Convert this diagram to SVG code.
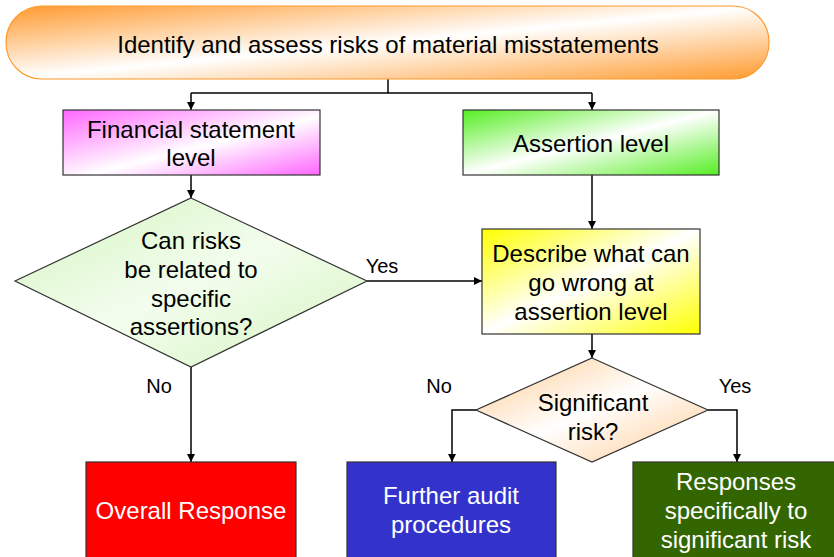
<svg xmlns="http://www.w3.org/2000/svg" width="834" height="557" viewBox="0 0 834 557">
  <defs>
    <linearGradient id="gOrange" x1="0" y1="0" x2="1" y2="1">
      <stop offset="0" stop-color="#FF9A2E"/>
      <stop offset="0.5" stop-color="#FFFFFF"/>
      <stop offset="1" stop-color="#FF9A2E"/>
    </linearGradient>
    <linearGradient id="gMagenta" x1="0" y1="0" x2="1" y2="1">
      <stop offset="0" stop-color="#FF66FF"/>
      <stop offset="0.55" stop-color="#FFFFFF"/>
      <stop offset="1" stop-color="#FF66FF"/>
    </linearGradient>
    <linearGradient id="gGreen" x1="0" y1="0" x2="1" y2="1">
      <stop offset="0" stop-color="#55EE22"/>
      <stop offset="0.5" stop-color="#FFFFFF"/>
      <stop offset="1" stop-color="#55EE22"/>
    </linearGradient>
    <linearGradient id="gYellow" x1="0" y1="0" x2="1" y2="1">
      <stop offset="0" stop-color="#FFFF00"/>
      <stop offset="0.5" stop-color="#FFFFFF"/>
      <stop offset="1" stop-color="#FFFF00"/>
    </linearGradient>
    <linearGradient id="gPale" x1="0" y1="0" x2="1" y2="1">
      <stop offset="0" stop-color="#D4F5BE"/>
      <stop offset="0.5" stop-color="#F3FDEE"/>
      <stop offset="1" stop-color="#D4F5BE"/>
    </linearGradient>
    <linearGradient id="gPeach" x1="0" y1="0" x2="1" y2="1">
      <stop offset="0" stop-color="#FFC98F"/>
      <stop offset="0.5" stop-color="#FFFFFF"/>
      <stop offset="1" stop-color="#FFC98F"/>
    </linearGradient>
    <marker id="arrow" viewBox="0 0 10 10" refX="10" refY="5" markerWidth="8" markerHeight="8" markerUnits="userSpaceOnUse" orient="auto">
      <path d="M0,0 L10,5 L0,10 Z" fill="#000"/>
    </marker>
  </defs>
  <style>
    text { font-family: "Liberation Sans", Arial, sans-serif; font-size: 24px; text-anchor: middle; fill: #000; }
    .light { fill: #FFFFFF; }
    .box { stroke: #333; stroke-width: 1.2; }
    .conn { fill: none; stroke: #000; stroke-width: 1.5; }
    .label { font-size: 20px; }
  </style>

  <g id="connectors">
    <path class="conn" d="M388,79 V93"/>
    <path class="conn" d="M191,93 H592"/>
    <path class="conn" d="M191,93 V110" marker-end="url(#arrow)"/>
    <path class="conn" d="M592,93 V110" marker-end="url(#arrow)"/>
    <path class="conn" d="M191,175 V198" marker-end="url(#arrow)"/>
    <path class="conn" d="M592,175 V229" marker-end="url(#arrow)"/>
    <path class="conn" d="M367,281 H482" marker-end="url(#arrow)"/>
    <path class="conn" d="M592,334 V358" marker-end="url(#arrow)"/>
    <path class="conn" d="M191,367 V462" marker-end="url(#arrow)"/>
    <path class="conn" d="M476,410 H452 V462" marker-end="url(#arrow)"/>
    <path class="conn" d="M708,410 H737 V462" marker-end="url(#arrow)"/>
    <text class="label" x="382" y="273">Yes</text>
    <text class="label" x="159" y="393">No</text>
    <text class="label" x="439" y="393">No</text>
    <text class="label" x="735" y="393">Yes</text>
  </g>

  <g id="identify">
    <rect x="6" y="6" width="763" height="73" rx="36" ry="36" fill="url(#gOrange)" stroke="#FF9A2E" stroke-width="1.2"/>
    <text x="388" y="53">Identify and assess risks of material misstatements</text>
  </g>

  <g id="financial">
    <rect class="box" x="63" y="110" width="257" height="65" fill="url(#gMagenta)"/>
    <text x="191" y="138">Financial statement</text>
    <text x="191" y="166">level</text>
  </g>

  <g id="assertion">
    <rect class="box" x="463" y="110" width="256" height="65" fill="url(#gGreen)"/>
    <text x="591" y="152">Assertion level</text>
  </g>

  <g id="can-risks">
    <polygon class="box" points="191,198 367,281 191,367 15,281" fill="url(#gPale)"/>
    <text x="191" y="249">Can risks</text>
    <text x="191" y="278">be related to</text>
    <text x="191" y="307">specific</text>
    <text x="191" y="335">assertions?</text>
  </g>

  <g id="describe">
    <rect class="box" x="482" y="229" width="218" height="105" fill="url(#gYellow)"/>
    <text x="591" y="262">Describe what can</text>
    <text x="591" y="291">go wrong at</text>
    <text x="591" y="320">assertion level</text>
  </g>

  <g id="significant">
    <polygon class="box" points="592,358 708,410 592,462 476,410" fill="url(#gPeach)"/>
    <text x="593" y="411">Significant</text>
    <text x="593" y="440">risk?</text>
  </g>

  <g id="overall">
    <rect class="box" x="86" y="462" width="210" height="100" fill="#FF0000"/>
    <text class="light" x="191" y="519">Overall Response</text>
  </g>

  <g id="further">
    <rect class="box" x="347" y="462" width="209" height="100" fill="#3333CC"/>
    <text class="light" x="451" y="504">Further audit</text>
    <text class="light" x="451" y="533">procedures</text>
  </g>

  <g id="specific-responses">
    <rect class="box" x="633" y="462" width="205" height="100" fill="#336600"/>
    <text class="light" x="736" y="490">Responses</text>
    <text class="light" x="736" y="519">specifically to</text>
    <text class="light" x="736" y="548">significant risk</text>
  </g>
</svg>
